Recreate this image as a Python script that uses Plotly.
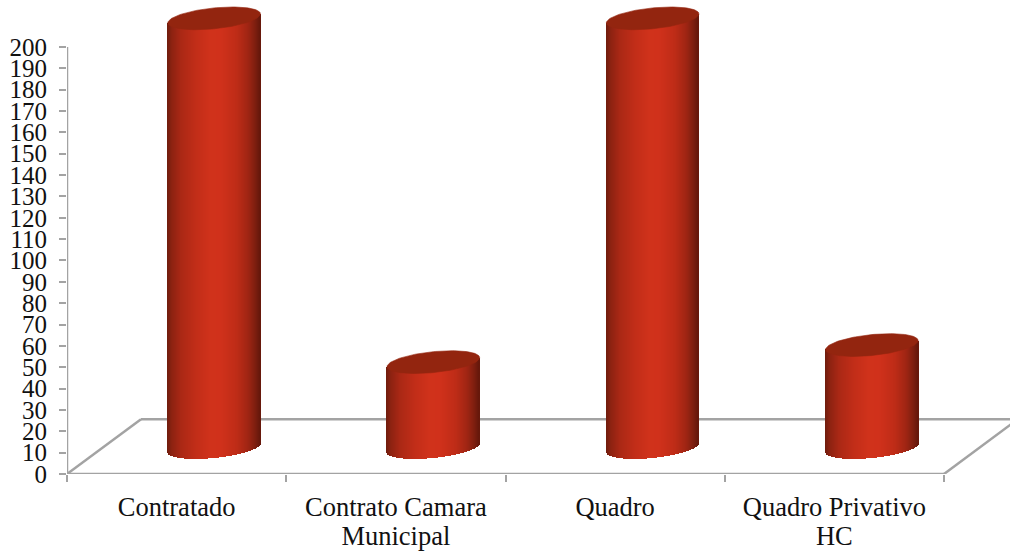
import numpy as np
import plotly.graph_objects as go

# Staff counts per contract type; labels are split into their two printed lines
category_line1 = ["Contratado", "Contrato Camara", "Quadro", "Quadro Privativo"]
category_line2 = ["", "Municipal", "", "HC"]
values = [201, 40, 201, 48]
y_ticks = list(range(0, 201, 10))

# Pseudo-3D proportions, expressed in axis units
FLOOR_DX, FLOOR_DY = 0.3375, 25.7   # depth of the floor parallelogram
BAR_OFFSET = 0.671                  # bar centre inside its category band
BAR_HALF = 0.211                    # cylinder half width
BAR_LEVEL = 12.4                    # height of the cylinder's base centre
CAP_B = 4.9                         # vertical semi-axis of the end ellipses
CAP_TILT = 2.1                      # rise of the ellipse towards its right side
X_MAX, Y_MAX = 4.301, 222

# Horizontal shading across a cylinder: position -> colour
shade_pos = [0.0, 0.05, 0.15, 0.30, 0.47, 0.58, 0.75, 0.87, 0.95, 1.0]
shade_rgb = [(110, 28, 13), (140, 34, 17), (170, 40, 21), (192, 45, 24), (208, 50, 27),
             (208, 49, 27), (190, 44, 23), (160, 37, 19), (125, 30, 15), (100, 23, 10)]
CAP_COLOR = "#93250F"
AXIS_GREY = "#A3A3A3"
TEXT = "Liberation Serif"
TEXT_COLOR = "#111111"

STRIPS = 93
edges = np.linspace(-1, 1, STRIPS + 1)
u = (edges[:-1] + edges[1:]) / 2
strip_colors = [
    "rgb({:.0f},{:.0f},{:.0f})".format(
        *[np.interp((v + 1) / 2, shade_pos, [c[i] for c in shade_rgb]) for i in range(3)]
    )
    for v in u
]

fig = go.Figure()

for i, value in enumerate(values):
    centre = i + BAR_OFFSET
    xs = centre + u * BAR_HALF
    # Each vertical strip runs from the lower arc up to the cap's mid line
    bottom = BAR_LEVEL + CAP_TILT * u - CAP_B * np.sqrt(1 - u ** 2)
    top = BAR_LEVEL + value + CAP_TILT * u
    fig.add_trace(go.Bar(
        x=xs, y=top - bottom, base=bottom,
        width=2 * BAR_HALF / STRIPS * 1.25,
        marker=dict(color=strip_colors, line=dict(width=0)),
        hoverinfo="skip", showlegend=False,
    ))
    # Top face of the cylinder
    t = np.linspace(0, 2 * np.pi, 121)
    fig.add_trace(go.Scatter(
        x=centre + BAR_HALF * np.cos(t),
        y=BAR_LEVEL + value + CAP_TILT * np.cos(t) + CAP_B * np.sin(t),
        mode="lines", fill="toself", fillcolor=CAP_COLOR,
        line=dict(width=0.6, color=CAP_COLOR),
        hoverinfo="skip", showlegend=False,
    ))

# Back and side edges of the floor sit behind the cylinders
floor_lines = [
    (0, 0, FLOOR_DX, FLOOR_DY),
    (FLOOR_DX, FLOOR_DY, X_MAX, FLOOR_DY),
    (4, 0, 4 + FLOOR_DX, FLOOR_DY),
]
for x0, y0, x1, y1 in floor_lines:
    fig.add_shape(type="line", x0=x0, y0=y0, x1=x1, y1=y1, xref="x", yref="y",
                  layer="below", line=dict(color=AXIS_GREY, width=2.5))

# Value axis line and front floor edge run along the plot border, so they stay unclipped
fig.add_trace(go.Scatter(
    x=[0, 0, 4], y=[200, 0, 0], mode="lines", cliponaxis=False,
    line=dict(color=AXIS_GREY, width=2.5), hoverinfo="skip", showlegend=False,
))


def label_axis(labels, offset):
    """Overlay axis that only prints one line of the category labels."""
    return dict(
        overlaying="x", side="bottom", anchor="y", automargin=False,
        range=[0, X_MAX], showgrid=False, zeroline=False, showline=False,
        tickmode="array", tickvals=[i + 0.5 for i in range(len(labels))],
        ticktext=labels, tickangle=0,
        ticks="outside", ticklen=offset, tickwidth=1, tickcolor="rgba(0,0,0,0)",
        tickfont=dict(family=TEXT, size=26.5, color=TEXT_COLOR),
    )


fig.update_layout(
    width=1010, height=552,
    margin=dict(l=67, r=0, t=0, b=78, pad=0, autoexpand=False),
    paper_bgcolor="white", plot_bgcolor="white",
    barmode="overlay", bargap=0,
    showlegend=False,
    font=dict(family=TEXT, color=TEXT_COLOR, size=25),
    xaxis=dict(
        range=[0, X_MAX], showgrid=False, zeroline=False, showline=False, automargin=False,
        tickmode="array", tickvals=[0, 1, 2, 3, 4], ticktext=[""] * 5,
        ticks="outside", ticklen=7, tickwidth=2, tickcolor=AXIS_GREY,
    ),
    xaxis2=label_axis(category_line1, 9),
    xaxis3=label_axis(category_line2, 38),
    yaxis=dict(
        range=[0, Y_MAX], showgrid=False, zeroline=False, showline=False, automargin=False,
        tickmode="array", tickvals=y_ticks,
        ticks="outside", ticklen=7, tickwidth=2, tickcolor=AXIS_GREY,
        ticklabelstandoff=7,
        tickfont=dict(family=TEXT, size=25, color=TEXT_COLOR),
    ),
)

# Invisible traces keep the label axes active
for axis in ("x2", "x3"):
    fig.add_trace(go.Scatter(x=[0.5], y=[0], xaxis=axis, yaxis="y", mode="markers",
                             marker=dict(opacity=0), hoverinfo="skip", showlegend=False))

fig.write_html("out.html")
